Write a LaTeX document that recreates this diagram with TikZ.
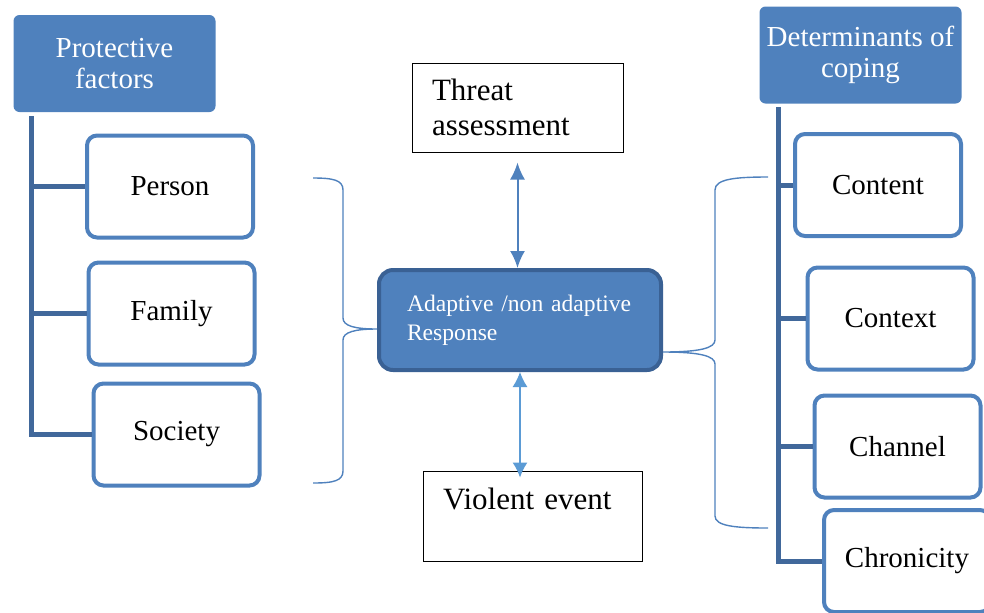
\documentclass[tikz,border=0pt]{standalone}
\usepackage{fontspec}
\setmainfont{Liberation Serif}
\usepackage{tikz}
\usetikzlibrary{arrows.meta,calc,positioning}
\definecolor{blueA}{HTML}{4F81BD}
\definecolor{blueDk}{HTML}{3A6194}
\definecolor{blueTr}{HTML}{41689B}
\definecolor{blueLt}{HTML}{5B9BD5}
\tikzstyle{headbox} = [rectangle, rounded corners=3pt, fill=blueA, text=white, align=center, minimum width=101pt, minimum height=48.5pt, font={\fontsize{14.5}{15.5}\selectfont}]
\tikzstyle{itembox} = [rectangle, rounded corners=5pt, draw=blueA, line width=2pt, fill=white, minimum width=83pt, minimum height=51pt, font={\fontsize{14.5}{16}\selectfont}]
\tikzstyle{plainbox} = [rectangle, draw=black, line width=0.5pt, align=left, inner xsep=10pt, font={\fontsize{15.5}{17.5}\selectfont}]
\tikzstyle{respbox} = [rectangle, rounded corners=7pt, draw=blueDk, line width=2pt, fill=blueA, text=white, align=left, inner xsep=14pt, text width=113pt, minimum height=50pt, font={\fontsize{11.8}{14.5}\selectfont}]
\tikzstyle{trunk} = [draw=blueTr, line width=2.5pt]
\tikzstyle{link} = [draw=blueA, line width=1pt, {Latex[length=8.5pt,width=7.5pt]}-{Latex[length=8.5pt,width=7.5pt]}]
\tikzstyle{linklight} = [draw=blueLt, line width=0.6pt, {Latex[length=7.5pt,width=7.5pt]}-{Latex[length=7.5pt,width=7.5pt]}]
\tikzstyle{curly} = [draw=blueA, line width=0.7pt]
\begin{document}
\begin{tikzpicture}[x=0.5pt, y=-0.5pt]
  \useasboundingbox (0,0) rectangle (984,612);
  \clip (0,0) rectangle (984,612);
  % protective factors
  \node [headbox] (prot) at (114.5,63.5) {Protective\\factors};
  \node [itembox] (person) at (170,186.5) {Person};
  \node [itembox] (family) at (171.5,313.5) {Family};
  \node [itembox] (society) at (176.5,434.5) {Society};
  \coordinate (ltop) at ($(prot.south west)+(18,4)$);
  \path [trunk] (ltop) |- (society.west);
  \path [trunk] (ltop |- person.west) -- (person.west);
  \path [trunk] (ltop |- family.west) -- (family.west);
  % response in the middle
  \node [plainbox, text width=85.5pt, minimum height=44.5pt] (threat) at (517.5,107.5)
    {Threat\\assessment};
  \node [respbox] (resp) at (520,320)
    {Adaptive /non adaptive\\Response};
  \node [plainbox, text width=89.5pt, minimum height=45pt] (violent) at (532.5,516)
    {Violent event\\\mbox{}};
  \path [link] ($(threat.south)+(0,10)$) -- (threat.south |- resp.north);
  \path [linklight] (resp.south) -- ($(resp.south |- violent.north)+(0,7)$);
  % determinants of coping
  \node [headbox] (determ) at (860.5,55) {Determinants of\\coping};
  \node [itembox] (content) at (878,185) {Content};
  \node [itembox] (context) at (890.5,318.5) {Context};
  \node [itembox] (channel) at (897.5,446.5) {Channel};
  \node [itembox] (chron) at (907,561) {Chronicity};
  \coordinate (rtop) at ($(determ.south west)+(19,3)$);
  \path [trunk] (rtop) |- (chron.west);
  \path [trunk] (rtop |- content.west) -- (content.west);
  \path [trunk] (rtop |- context.west) -- (context.west);
  \path [trunk] (rtop |- channel.west) -- (channel.west);
  % braces
  \coordinate (ltip) at (377,329);
  \coordinate (rtip) at (663,352);
  \path [curly] (313,178) .. controls (333,178) and (343,180) .. (343,190)
    -- (343,318) .. controls (343,326) and (355,329) .. (ltip)
    .. controls (355,329) and (343,332) .. (343,340)
    -- (343,471) .. controls (343,481) and (333,483) .. (313,483);
  \path [curly] (768,177) .. controls (735,177) and (715,179) .. (715,190)
    -- (715,340) .. controls (715,348) and (700,352) .. (rtip)
    .. controls (700,352) and (715,356) .. (715,364)
    -- (715,516) .. controls (715,526) and (735,528) .. (768,528);
\end{tikzpicture}
\end{document}
